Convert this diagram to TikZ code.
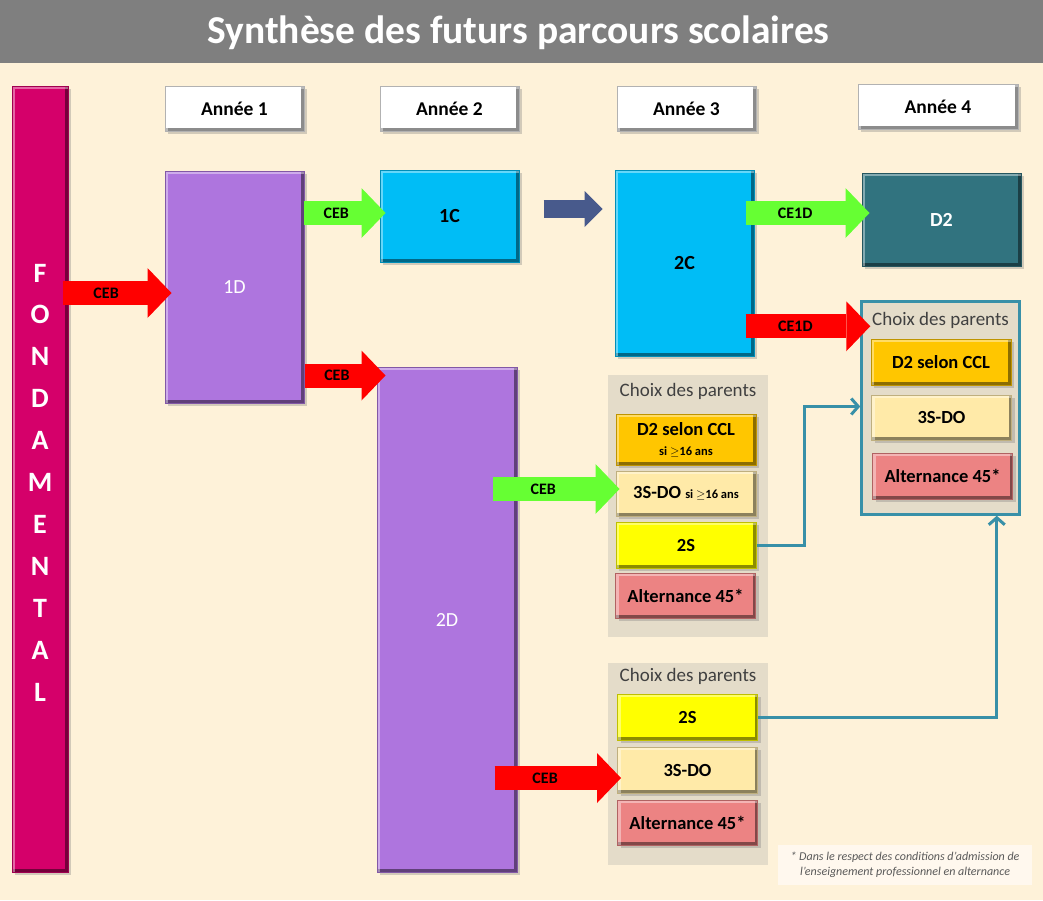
\documentclass[tikz,border=0pt]{standalone}
\usepackage{fontspec}
\setmainfont{Carlito}
\usetikzlibrary{arrows.meta,shadows,calc}
\definecolor{cream}{HTML}{FEF2D9}
\definecolor{titlegray}{HTML}{7F7F7F}
\definecolor{fondpink}{HTML}{D5006A}
\definecolor{lilac}{HTML}{AE75DE}
\definecolor{sky}{HTML}{00BDF6}
\definecolor{petrol}{HTML}{31737F}
\definecolor{gold}{HTML}{FFC600}
\definecolor{pale}{HTML}{FFEAA8}
\definecolor{lemon}{HTML}{FFFF00}
\definecolor{salmon}{HTML}{EC8383}
\definecolor{choixbg}{HTML}{E4DCC9}
\definecolor{link}{HTML}{3890A8}
\definecolor{grass}{HTML}{66FF33}
\definecolor{alarm}{HTML}{FF0000}
\definecolor{slate}{HTML}{485A8C}
\definecolor{notebg}{HTML}{FFF8EE}
\begin{document}
\begin{tikzpicture}
[x=1pt,y=-1pt,
  boxdecorate/.style={shape=rectangle,inner sep=2pt,fill=#1,draw=#1!75!black,
    line width=1pt,drop shadow={opacity=0.35,shadow xshift=3pt,shadow yshift=-3pt},
    path picture={
      \draw[#1!55!black,line width=6pt] (path picture bounding box.south west)
        -| (path picture bounding box.north east);
      \draw[white,opacity=0.4,line width=6pt] (path picture bounding box.south west)
        |- (path picture bounding box.north east);}},
  anneedecorate/.style={boxdecorate=white,draw=black!30,minimum height=45pt,
    font=\bfseries\fontsize{19.5}{20}\selectfont},
  choicedecorate/.style={boxdecorate=#1,minimum width=140pt,align=center,
    font=\bfseries\fontsize{18.5}{20}\selectfont},
  groupdecorate/.style={shape=rectangle,fill=choixbg,minimum width=160pt},
  titledecorate/.style={font=\fontsize{19}{20}\selectfont,text=black!75},
  letterdecorate/.style={font=\bfseries\fontsize{28}{28}\selectfont,text=white},
  arrowdecorate/.style={draw=#1,line width=24pt,
    -{Triangle[length=24pt,width=50pt,line width=0pt]}},
  arrowlabel/.style={pos=0.4,font=\bfseries\fontsize{16}{16}\selectfont,text=black},
  linkdecorate/.style={draw=link,line width=3pt,
    -{Straight Barb[length=7pt,width=16pt]}}]
\useasboundingbox (0,0) rectangle (1043,900);
%% background and title
\fill[cream] (0,63) rectangle (1043,900);
\fill[titlegray] (0,0) rectangle (1043,63);
\node (title) at (518.5,33) [font=\bfseries\fontsize{39.5}{40}\selectfont,text=white]
  {Synthèse des futurs parcours scolaires};
%% fondamental bar
\node (fond) at (40,479) [boxdecorate=fondpink,minimum width=56pt,minimum height=786pt] {};
\foreach \letter [count=\i] in {F,O,N,D,A,M,E,N,T,A,L} {
  \node [letterdecorate] at (40,{231.1+41.9*\i}) {\letter};
}
%% year headers
\foreach \nodename/\x/\y/\w/\lab in {an1/234.5/108.5/139/1, an2/449.5/108.5/139/2,
  an3/686.5/108.5/139/3, an4/938/106.5/160/4} {
  \node (\nodename) at (\x,\y) [anneedecorate,minimum width=\w pt] {Année \lab};
}
%% main boxes
\foreach \nodename/\x/\y/\w/\h/\colour/\txt/\lab in {
  1D/234.5/287/139/232/lilac/white/1D, 1C/449.5/216/139/92/sky/black/\bfseries 1C,
  2C/684.5/263/139/186/sky/black/\bfseries 2C, D2/941.5/219.5/159/93/petrol/white/\bfseries D2,
  2D/447/619.5/140/505/lilac/white/2D} {
  \node (\nodename) at (\x,\y) [boxdecorate=\colour,text=\txt,minimum width=\w pt,
    minimum height=\h pt,font=\fontsize{20}{22}\selectfont] {\lab};
}
%% parents' choice groups
\node (choixA) at (688,506) [groupdecorate,minimum height=262pt] {};
\node (choixC) at (688,764) [groupdecorate,minimum height=202pt] {};
\node (choixB) at (940.5,408) [groupdecorate,draw=link,line width=2.5pt,
  minimum width=158pt,minimum height=213pt] {};
\foreach \nodename/\dy in {choixA/17, choixC/14, choixB/20} {
  \node [titledecorate] at ($(\nodename.north)+(0,\dy)$) {Choix des parents};
}
\foreach \nodename/\x/\y/\h/\colour/\lab in {
  A1/686/439.5/51/gold/{D2 selon CCL\\{\fontsize{12.5}{13}\selectfont si $\geq$16 ans}},
  A2/686/493.5/45/pale/{3S-DO {\fontsize{12.5}{13}\selectfont si $\geq$16 ans}},
  A3/686/545/46/lemon/2S, A4/685.5/595.5/45/salmon/Alternance 45*,
  C1/687.5/717/46/lemon/2S, C2/687.5/770/46/pale/3S-DO,
  C3/687.5/822.5/45/salmon/Alternance 45*,
  B1/941/362/46/gold/D2 selon CCL, B2/941.5/417.5/45/pale/3S-DO,
  B3/942.5/476/46/salmon/Alternance 45*} {
  \node (\nodename) at (\x,\y) [choicedecorate=\colour,minimum height=\h pt] {\lab};
}
%% block arrows
\path
\foreach \startnode/\endnode/\anchor/\sx/\ex/\dy/\colour/\lab in {
  fond/1D/west/-6/7/6/alarm/CEB, 1D/1C/west/-1/6/-3/grass/CEB,
  1D/2D/north west/0/9/9/alarm/CEB, 2C/D2/west/-9/8/-6.5/grass/CE1D,
  2C/choixB/north west/-9/10/26/alarm/CE1D, 2D/A2/west/-25/4/-4.5/grass/CEB,
  2D/C2/west/-23/4/8/alarm/CEB} {
  ($(\startnode.east |- \endnode.\anchor)+(\sx,\dy)$) edge[arrowdecorate=\colour]
    node[arrowlabel] {\lab} ($(\endnode.\anchor)+(\ex,\dy)$)
};
\draw[draw=slate,line width=18pt,-{Triangle[length=18pt,width=36pt,line width=0pt]}]
  ($(1C.east)+(24,-7)$) -- ($(1C.east -| 2C.west)+(-12,-7)$);
%% links to the fourth year
\draw[linkdecorate] (A3.east) -- ++(48,0) |- ($(choixB.west |- B2.west)+(0,-11)$);
\draw[linkdecorate] (C1.east) -| ($(choixB.south east)+(-24,0)$);
%% footnote
\node (note) at (905,865) [fill=notebg,minimum width=254pt,minimum height=40pt,
  inner sep=0pt,align=center,text=black!65,font=\itshape\fontsize{12}{15}\selectfont]
  {* Dans le respect des conditions d’admission de\\l’enseignement professionnel en alternance};
\end{tikzpicture}
\end{document}
